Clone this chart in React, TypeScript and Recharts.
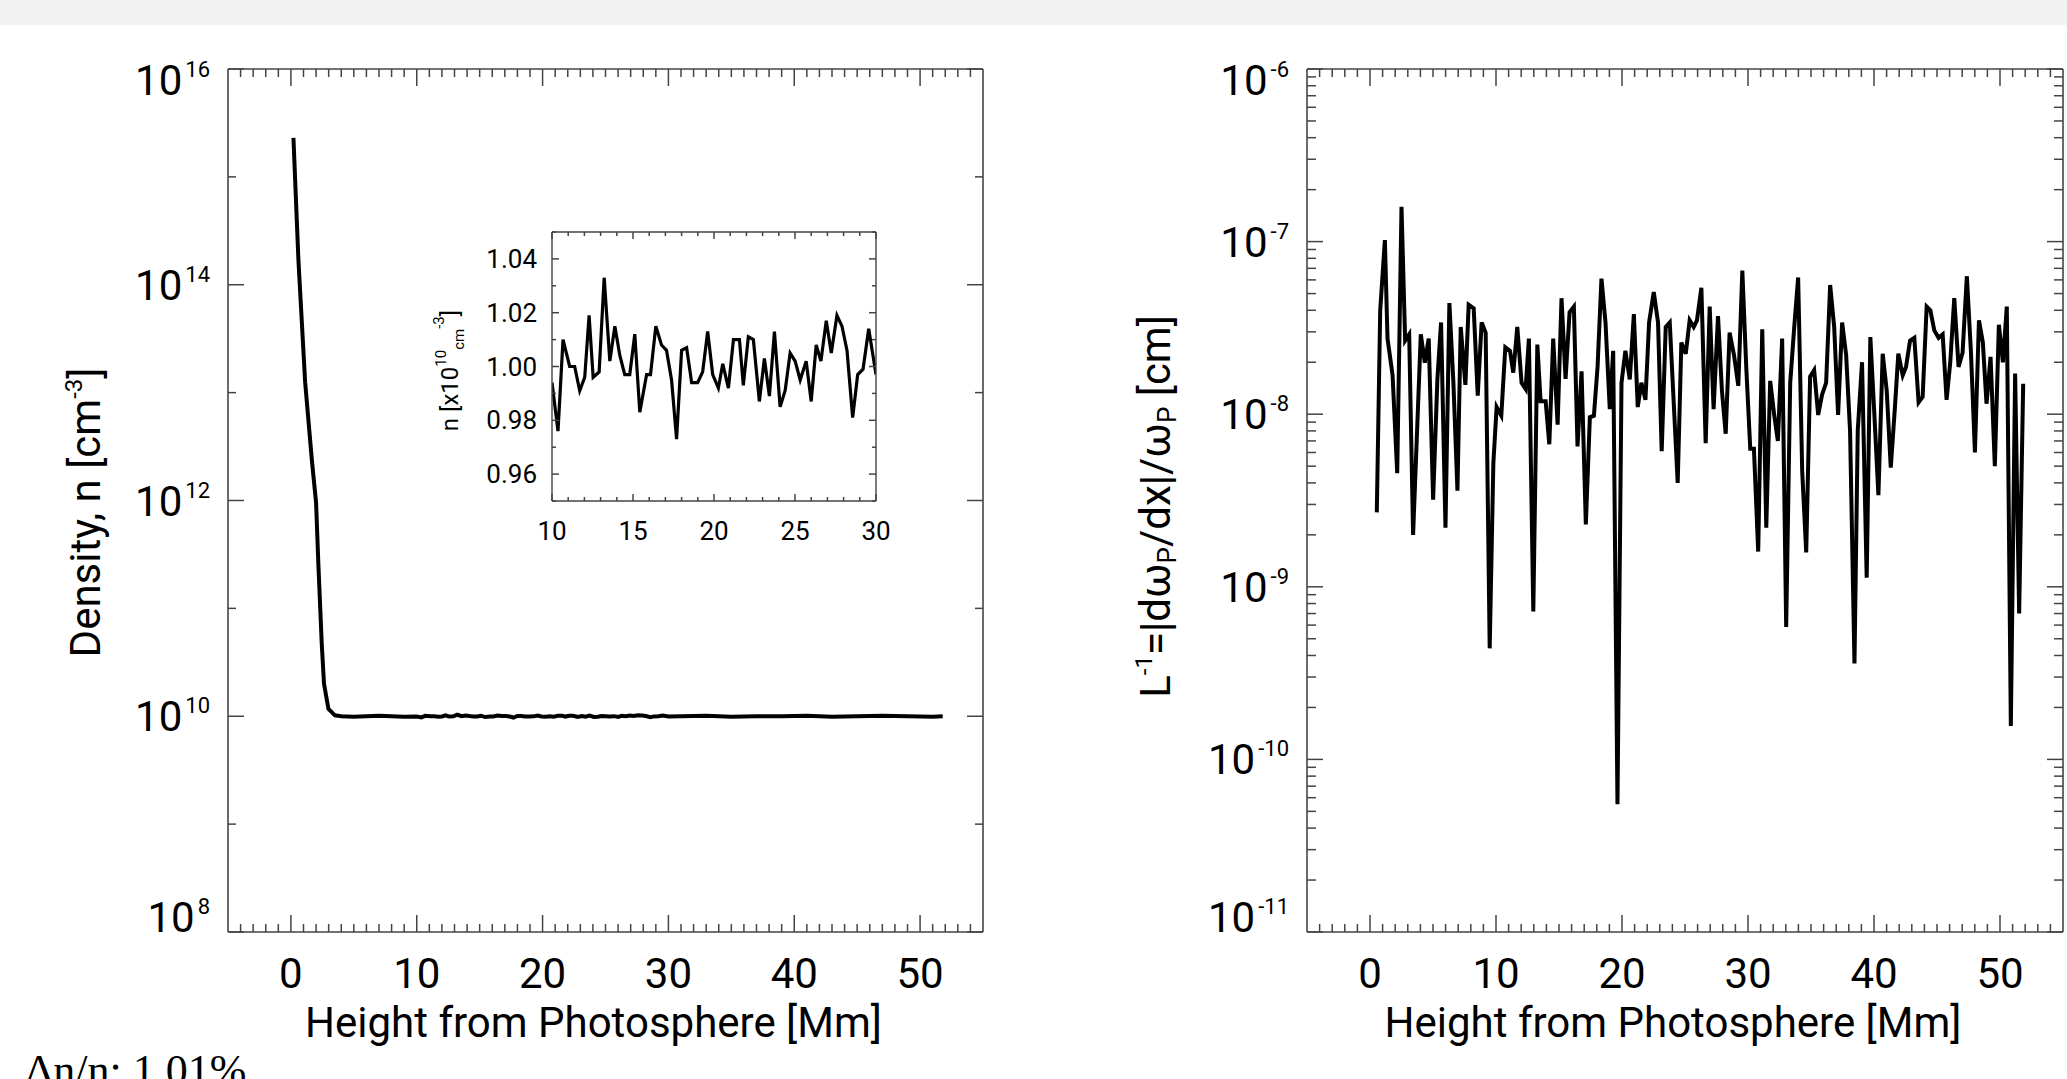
import React from 'react';
import { LineChart, Line, XAxis, YAxis } from 'recharts';

const FONT = 'Roboto, "Open Sans", sans-serif';
const INK = '#000';
const FRAME = '#444';

// ---- left panel: density profile ----
const steepHeight = [0.2, 0.6, 1.13, 1.66, 2.0, 2.18, 2.45, 2.63, 2.98, 3.5];
const steepDensity = [2.3e15, 1.66e14, 1.25e13, 2.4e12, 9.5e11, 2.6e11, 4.7e10, 2.0e10, 1.17e10, 1.02e10];
const nearFlatHeight = [4, 5, 6, 7, 8, 9];
const nearFlatDensity = [1.0e10, 0.99e10, 1.0e10, 1.01e10, 1.0e10, 0.99e10];
const farFlatHeight = [31, 33, 35, 37, 39, 41, 43, 45, 47, 49, 51, 51.8];
const farFlatDensity = [1.0e10, 1.01e10, 0.99e10, 1.0e10, 1.0e10, 1.01e10, 0.99e10, 1.0e10, 1.01e10, 1.0e10, 0.99e10, 1.0e10];

// ---- inset: zoom of the corona, n in units of 1e10 cm^-3 ----
const insetHeight = [
  10.0, 10.37, 10.68, 11.09, 11.4, 11.71, 12.02, 12.29, 12.54, 12.91,
  13.22, 13.57, 13.88, 14.19, 14.49, 14.8, 15.11, 15.42, 15.84, 16.08,
  16.41, 16.76, 17.07, 17.38, 17.69, 18.0, 18.31, 18.62, 18.99, 19.3,
  19.61, 19.92, 20.27, 20.54, 20.89, 21.2, 21.57, 21.81, 22.12, 22.43,
  22.8, 23.11, 23.42, 23.73, 24.08, 24.39, 24.7, 25.01, 25.32, 25.69,
  26.0, 26.31, 26.6, 26.93, 27.24, 27.59, 27.9, 28.21, 28.56, 28.87,
  29.2, 29.55, 30.0,
];
const insetDensity = [
  0.994, 0.976, 1.01, 1.0, 1.0, 0.991, 0.996, 1.019, 0.996, 0.998,
  1.033, 1.002, 1.015, 1.004, 0.997, 0.997, 1.012, 0.983, 0.997, 0.997,
  1.015, 1.008, 1.006, 0.995, 0.973, 1.006, 1.007, 0.994, 0.994, 0.998,
  1.013, 0.997, 0.992, 1.001, 0.992, 1.01, 1.01, 0.993, 1.011, 1.01,
  0.987, 1.003, 0.989, 1.013, 0.985, 0.991, 1.005, 1.002, 0.995, 1.002,
  0.987, 1.008, 1.002, 1.017, 1.005, 1.019, 1.015, 1.006, 0.981, 0.997,
  0.999, 1.014, 0.997,
];

// ---- right panel: inverse scale length ----
const gradHeight = [
  0.54, 0.81, 1.18, 1.39, 1.79, 2.16, 2.5, 2.79, 3.11, 3.42,
  4.03, 4.35, 4.66, 5.01, 5.35, 5.64, 5.99, 6.3, 6.62, 6.94,
  7.2, 7.57, 7.83, 8.23, 8.55, 8.86, 9.18, 9.5, 9.79, 10.05,
  10.42, 10.74, 11.11, 11.37, 11.69, 12.03, 12.35, 12.61, 12.96, 13.28,
  13.54, 13.94, 14.23, 14.54, 14.89, 15.2, 15.52, 15.84, 16.18, 16.47,
  16.79, 17.13, 17.45, 17.77, 18.06, 18.37, 18.69, 19.03, 19.3, 19.64,
  19.96, 20.27, 20.62, 20.94, 21.25, 21.54, 21.86, 22.15, 22.52, 22.86,
  23.15, 23.47, 23.79, 24.42, 24.71, 25.06, 25.37, 25.69, 25.95, 26.3,
  26.64, 26.96, 27.27, 27.62, 27.93, 28.23, 28.54, 28.89, 29.23, 29.55,
  29.86, 30.18, 30.47, 30.81, 31.13, 31.45, 31.76, 32.08, 32.37, 32.71,
  33.03, 33.35, 33.67, 33.98, 34.3, 34.62, 34.93, 35.25, 35.57, 35.88,
  36.2, 36.52, 36.84, 37.15, 37.47, 37.79, 38.1, 38.45, 38.71, 39.05,
  39.42, 39.71, 40.03, 40.35, 40.69, 41.01, 41.33, 41.64, 41.93, 42.28,
  42.54, 42.86, 43.2, 43.54, 43.86, 44.18, 44.47, 44.79, 45.13, 45.45,
  45.76, 46.05, 46.37, 46.71, 47.03, 47.37, 47.69, 48.01, 48.33, 48.64,
  48.93, 49.25, 49.59, 49.91, 50.23, 50.54, 50.86, 51.2, 51.52, 51.84,
];
const gradValue = [
  2.7e-9, 4.0e-8, 1.02e-7, 2.74e-8, 1.69e-8, 4.55e-9, 1.59e-7, 2.67e-8, 2.9e-8, 2.0e-9,
  2.9e-8, 1.99e-8, 2.74e-8, 3.2e-9, 1.6e-8, 3.4e-8, 2.2e-9, 4.4e-8, 1.52e-8, 3.6e-9,
  3.2e-8, 1.48e-8, 4.3e-8, 4.1e-8, 1.28e-8, 3.4e-8, 2.97e-8, 4.4e-10, 5.2e-9, 1.1e-8,
  9.8e-9, 2.44e-8, 2.33e-8, 1.74e-8, 3.2e-8, 1.52e-8, 1.4e-8, 2.74e-8, 7.2e-10, 2.53e-8,
  1.19e-8, 1.19e-8, 6.7e-9, 2.74e-8, 8.7e-9, 4.7e-8, 1.6e-8, 3.9e-8, 4.2e-8, 6.5e-9,
  1.77e-8, 2.3e-9, 9.6e-9, 9.8e-9, 1.88e-8, 6.1e-8, 3.4e-8, 1.07e-8, 2.33e-8, 5.5e-11,
  1.52e-8, 2.33e-8, 1.59e-8, 3.8e-8, 1.1e-8, 1.52e-8, 1.21e-8, 3.4e-8, 5.1e-8, 3.4e-8,
  6.1e-9, 3.2e-8, 3.4e-8, 4.0e-9, 2.6e-8, 2.24e-8, 3.5e-8, 3.2e-8, 3.5e-8, 5.4e-8,
  6.8e-9, 4.2e-8, 1.07e-8, 3.7e-8, 1.37e-8, 7.7e-9, 2.97e-8, 2.2e-8, 1.46e-8, 6.8e-8,
  1.88e-8, 6.3e-9, 6.3e-9, 1.6e-9, 3.1e-8, 2.2e-9, 1.56e-8, 9.9e-9, 7.0e-9, 2.74e-8,
  5.85e-10, 1.52e-8, 3.2e-8, 6.2e-8, 4.7e-9, 1.58e-9, 1.65e-8, 1.8e-8, 9.9e-9, 1.3e-8,
  1.52e-8, 5.6e-8, 3.2e-8, 9.9e-9, 3.4e-8, 2.2e-8, 8.0e-9, 3.6e-10, 8.0e-9, 2.0e-8,
  1.13e-9, 2.8e-8, 9.9e-9, 3.4e-9, 2.24e-8, 1.37e-8, 4.9e-9, 1.04e-8, 2.24e-8, 1.68e-8,
  1.88e-8, 2.67e-8, 2.77e-8, 1.17e-8, 1.26e-8, 4.2e-8, 4.0e-8, 3.05e-8, 2.77e-8, 2.9e-8,
  1.21e-8, 1.99e-8, 4.7e-8, 1.88e-8, 2.27e-8, 6.3e-8, 2.33e-8, 6.0e-9, 3.5e-8, 2.6e-8,
  1.15e-8, 2.15e-8, 5.0e-9, 3.3e-8, 2.0e-8, 4.2e-8, 1.56e-10, 1.72e-8, 7.0e-10, 1.5e-8,
];

// ---- ticks (majors are labelled and drawn long, the rest short) ----
const range = (a: number, b: number, step = 1) => {
  const out: number[] = [];
  for (let v = a; v <= b + 1e-9; v += step) out.push(Math.round(v * 1000) / 1000);
  return out;
};
const xMajor = [0, 10, 20, 30, 40, 50];
const xAll = range(-4, 54);
const densMajor = [1e8, 1e10, 1e12, 1e14, 1e16];
const densAll = [1e8, 1e9, 1e10, 1e11, 1e12, 1e13, 1e14, 1e15, 1e16];
const gradMajor = [1e-11, 1e-10, 1e-9, 1e-8, 1e-7, 1e-6];
const gradAll = [
  ...gradMajor,
  ...[-11, -10, -9, -8, -7].flatMap((d) => [2, 3, 4, 5, 6, 7, 8, 9].map((m) => m * Math.pow(10, d))),
].sort((a, b) => a - b);
const insetXMajor = [10, 15, 20, 25, 30];
const insetXAll = range(10, 30);
const insetYMajor = [0.96, 0.98, 1.0, 1.02, 1.04];
const insetYAll = range(0.95, 1.05, 0.01);

const leftData = [
  ...steepHeight.map((h, i) => ({ h, v: steepDensity[i] })),
  ...nearFlatHeight.map((h, i) => ({ h, v: nearFlatDensity[i] })),
  ...insetHeight.map((h, i) => ({ h, v: insetDensity[i] * 1e10 })),
  ...farFlatHeight.map((h, i) => ({ h, v: farFlatDensity[i] })),
];
const insetData = insetHeight.map((h, i) => ({ h, v: insetDensity[i] }));
const gradData = gradHeight.map((h, i) => ({ h, v: gradValue[i] }));

// ---- tick renderers: inward tick mark + optional label ----
type Side = 'bottom' | 'top' | 'left' | 'right';
const isIn = (list: number[], v: number) => list.some((m) => Math.abs(m - v) <= Math.abs(m) * 1e-6 + 1e-12);

const sideTick = (side: Side, majors: number[], big: number, small: number, label?: (p: any, v: number) => React.ReactNode) =>
  (p: any) => {
    const v = p.payload.value;
    const major = isIn(majors, v);
    const len = major ? big : small;
    const x2 = side === 'left' ? p.x + len : side === 'right' ? p.x - len : p.x;
    const y2 = side === 'bottom' ? p.y - len : side === 'top' ? p.y + len : p.y;
    return (
      <g>
        <line x1={p.x} y1={p.y} x2={x2} y2={y2} stroke={FRAME} strokeWidth={1.5} />
        {major && label ? label(p, v) : null}
      </g>
    );
  };

const numberLabel = (dy: number, size: number) => (p: any, v: number) => (
  <text x={p.x} y={p.y + dy} textAnchor="middle" fontFamily={FONT} fontSize={size} fill={INK}>{v}</text>
);

const powerLabel = (top: number, bottom: number) => (p: any, v: number) => {
  const e = Math.round(Math.log10(v));
  const dy = e === top ? 26 : e === bottom ? 0 : 15;
  return (
    <text x={p.x - 18} y={p.y + dy} textAnchor="end" fontFamily={FONT} fontSize={42} fill={INK}>
      10<tspan dx={3} dy={-18} fontSize={22}>{e}</tspan>
    </text>
  );
};

const insetYLabel = (p: any, v: number) => (
  <text x={p.x - 15} y={p.y + 9} textAnchor="end" fontFamily={FONT} fontSize={26} fill={INK}>{v.toFixed(2)}</text>
);

// ---- axis titles ----
const heightTitle = (p: any) => {
  const vb = p.viewBox;
  return (
    <text x={vb.x + vb.width / 2 - 12} y={vb.y + 105} textAnchor="middle" fontFamily={FONT} fontSize={42} fill={INK}>
      Height from Photosphere [Mm]
    </text>
  );
};

const densityTitle = (p: any) => {
  const vb = p.viewBox;
  const cx = vb.x - 28;
  const cy = vb.y + vb.height / 2 + 12;
  return (
    <text transform={`rotate(-90 ${cx} ${cy})`} x={cx} y={cy} textAnchor="middle" fontFamily={FONT} fontSize={42} fill={INK}>
      Density, n [cm<tspan dy={-18} fontSize={24}>-3</tspan>
      <tspan dy={18}>]</tspan>
    </text>
  );
};

const gradTitle = (p: any) => {
  const vb = p.viewBox;
  const cx = vb.x - 17;
  const cy = vb.y + vb.height / 2 + 6;
  return (
    <text transform={`rotate(-90 ${cx} ${cy})`} x={cx} y={cy} textAnchor="middle" fontFamily={FONT} fontSize={42} fill={INK}>
      L<tspan dy={-18} fontSize={24}>-1</tspan>
      <tspan dy={18}>=|dω</tspan>
      <tspan dy={6} fontSize={26}>P</tspan>
      <tspan dy={-6}>/dx|/ω</tspan>
      <tspan dy={6} fontSize={26}>P</tspan>
      <tspan dy={-6}> [cm]</tspan>
    </text>
  );
};

const insetTitle = (p: any) => {
  const vb = p.viewBox;
  const cx = vb.x + 6;
  const cy = vb.y + vb.height / 2 + 4;
  return (
    <text transform={`rotate(-90 ${cx} ${cy})`} x={cx} y={cy} textAnchor="middle" fontFamily={FONT} fontSize={24} fill={INK}>
      n [x10<tspan dy={-12} fontSize={15}>10</tspan>
      <tspan dy={18} fontSize={15}>cm</tspan>
      <tspan dy={-20} fontSize={15}>-3</tspan>
      <tspan dy={14}>]</tspan>
    </text>
  );
};

const frameLine = { stroke: FRAME, strokeWidth: 1.6 };
const common = { type: 'number' as const, allowDataOverflow: true, tickLine: false, tickSize: 0, tickMargin: 0, interval: 0 as const, axisLine: frameLine };

function DensityPanel() {
  return (
    <LineChart width={1040} height={1079} data={leftData} margin={{ top: 68, right: 56, bottom: 47, left: 128 }}>
      <XAxis xAxisId="b" dataKey="h" {...common} domain={[-5, 55]} ticks={xAll} height={100}
        tick={sideTick('bottom', xMajor, 17, 8, numberLabel(56, 42))} label={heightTitle} />
      <XAxis xAxisId="t" dataKey="h" orientation="top" {...common} domain={[-5, 55]} ticks={xAll} height={1}
        tick={sideTick('top', xMajor, 17, 8)} />
      <YAxis yAxisId="l" {...common} scale="log" domain={[1e8, 1e16]} ticks={densAll} width={100}
        tick={sideTick('left', densMajor, 16, 8, powerLabel(16, 8))} label={densityTitle} />
      <YAxis yAxisId="r" orientation="right" {...common} scale="log" domain={[1e8, 1e16]} ticks={densAll} width={1}
        tick={sideTick('right', densMajor, 16, 8)} />
      <Line xAxisId="b" yAxisId="l" dataKey="v" type="linear" dot={false} stroke={INK} strokeWidth={4} isAnimationActive={false} />
    </LineChart>
  );
}

function InsetPanel() {
  return (
    <LineChart width={500} height={360} data={insetData} margin={{ top: 31, right: 23, bottom: 9, left: 52 }}>
      <XAxis xAxisId="b" dataKey="h" {...common} domain={[10, 30]} ticks={insetXAll} height={50}
        axisLine={{ stroke: FRAME, strokeWidth: 1.4 }} tick={sideTick('bottom', insetXMajor, 7, 4, numberLabel(39, 26))} />
      <XAxis xAxisId="t" dataKey="h" orientation="top" {...common} domain={[10, 30]} ticks={insetXAll} height={1}
        axisLine={{ stroke: FRAME, strokeWidth: 1.4 }} tick={sideTick('top', insetXMajor, 7, 4)} />
      <YAxis yAxisId="l" {...common} domain={[0.95, 1.05]} ticks={insetYAll} width={100}
        axisLine={{ stroke: FRAME, strokeWidth: 1.4 }} tick={sideTick('left', insetYMajor, 7, 4, insetYLabel)} label={insetTitle} />
      <YAxis yAxisId="r" orientation="right" {...common} domain={[0.95, 1.05]} ticks={insetYAll} width={1}
        axisLine={{ stroke: FRAME, strokeWidth: 1.4 }} tick={sideTick('right', insetYMajor, 7, 4)} />
      <Line xAxisId="b" yAxisId="l" dataKey="v" type="linear" dot={false} stroke={INK} strokeWidth={3.2} isAnimationActive={false} />
    </LineChart>
  );
}

function GradientPanel() {
  return (
    <LineChart width={1027} height={1079} data={gradData} margin={{ top: 68, right: 3, bottom: 47, left: 147 }}>
      <XAxis xAxisId="b" dataKey="h" {...common} domain={[-5, 55]} ticks={xAll} height={100}
        tick={sideTick('bottom', xMajor, 17, 8, numberLabel(56, 42))} label={heightTitle} />
      <XAxis xAxisId="t" dataKey="h" orientation="top" {...common} domain={[-5, 55]} ticks={xAll} height={1}
        tick={sideTick('top', xMajor, 17, 8)} />
      <YAxis yAxisId="l" {...common} scale="log" domain={[1e-11, 1e-6]} ticks={gradAll} width={120}
        tick={sideTick('left', gradMajor, 16, 9, powerLabel(-6, -11))} label={gradTitle} />
      <YAxis yAxisId="r" orientation="right" {...common} scale="log" domain={[1e-11, 1e-6]} ticks={gradAll} width={1}
        tick={sideTick('right', gradMajor, 16, 9)} />
      <Line xAxisId="b" yAxisId="l" dataKey="v" type="linear" dot={false} stroke={INK} strokeWidth={4} isAnimationActive={false} />
    </LineChart>
  );
}

export default function App() {
  return (
    <div style={{ position: 'absolute', left: 0, top: 0, width: 2067, height: 1079, background: '#fff', overflow: 'hidden' }}>
      <div style={{ position: 'absolute', left: 0, top: 0, width: 2067, height: 25, background: '#f2f2f2' }} />
      <div style={{ position: 'absolute', left: 0, top: 0 }}>
        <DensityPanel />
      </div>
      <div style={{ position: 'absolute', left: 1040, top: 0 }}>
        <GradientPanel />
      </div>
      <div style={{ position: 'absolute', left: 400, top: 200 }}>
        <InsetPanel />
      </div>
      <svg width={400} height={60} style={{ position: 'absolute', left: 0, top: 1040 }}>
        <text x={25} y={45} fontFamily='"Liberation Serif", serif' fontSize={44} fill={INK}>
          Δn/n: 1.01%
        </text>
      </svg>
    </div>
  );
}
